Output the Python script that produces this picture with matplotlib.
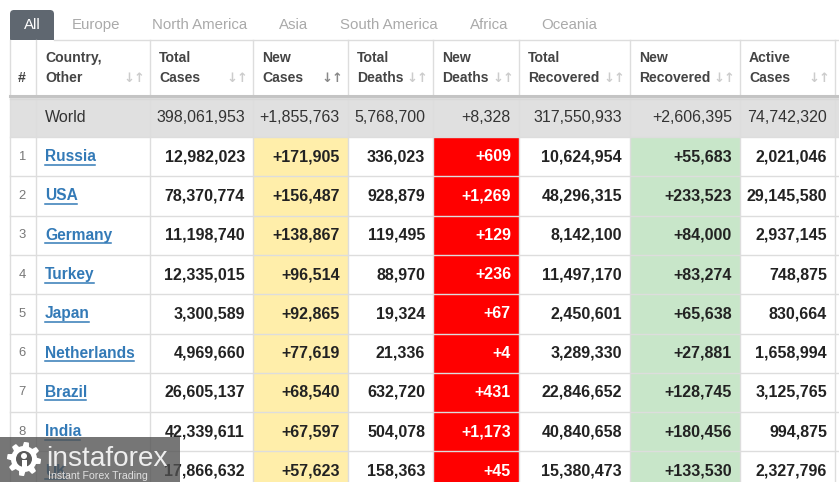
import matplotlib.pyplot as plt
from matplotlib.patches import Rectangle, FancyBboxPatch, Circle, Polygon
import numpy as np

# === Data ===
tabs = ["All", "Europe", "North America", "Asia", "South America", "Africa", "Oceania"]
headers = [["#"], ["Country,", "Other"], ["Total", "Cases"], ["New", "Cases"], ["Total", "Deaths"],
           ["New", "Deaths"], ["Total", "Recovered"], ["New", "Recovered"], ["Active", "Cases"]]
world = [398061953, 1855763, 5768700, 8328, 317550933, 2606395, 74742320]

countries = ["Russia", "USA", "Germany", "Turkey", "Japan", "Netherlands", "Brazil", "India", "UK"]
total_cases = [12982023, 78370774, 11198740, 12335015, 3300589, 4969660, 26605137, 42339611, 17866632]
new_cases = [171905, 156487, 138867, 96514, 92865, 77619, 68540, 67597, 57623]
total_deaths = [336023, 928879, 119495, 88970, 19324, 21336, 632720, 504078, 158363]
new_deaths = [609, 1269, 129, 236, 67, 4, 431, 1173, 45]
total_recovered = [10624954, 48296315, 8142100, 11497170, 2450601, 3289330, 22846652, 40840658, 15380473]
new_recovered = [55683, 233523, 84000, 83274, 65638, 27881, 128745, 180456, 133530]
active_cases = [2021046, 29145580, 2937145, 748875, 830664, 1658994, 3125765, 994875, 2327796]

# === Layout (pixels) ===
W, H = 839, 482
col_x = [10, 36, 150, 253, 348, 433, 519, 630, 740, 835, 900]
tab_x = [32, 96, 200, 294, 389, 489, 569]
header_top, header_bot = 40, 97
world_bot = 137
row_h = 39.3

FONT = "Liberation Sans"
PT = 0.72  # px -> pt at dpi 100
BORDER = "#dddddd"
TXT = "#222222"

fig = plt.figure(figsize=(W / 100, H / 100), dpi=100)
ax = fig.add_axes([0, 0, 1, 1])
ax.set_xlim(0, W)
ax.set_ylim(H, 0)
ax.axis("off")


def rect(x0, y0, x1, y1, fc, ec="none", lw=0, z=1):
    ax.add_patch(Rectangle((x0, y0), x1 - x0, y1 - y0, facecolor=fc, edgecolor=ec, linewidth=lw, zorder=z))


def fmt(v, plus=False):
    s = f"{v:,}"
    return "+" + s if plus else s


# tabs
ax.add_patch(FancyBboxPatch((10, 10), 44, 30, boxstyle="round,pad=0,rounding_size=4",
                            facecolor="#5f6770", edgecolor="none", zorder=2))
rect(10, 30, 54, 40, "#5f6770", z=2)
for i, t in enumerate(tabs):
    ax.text(tab_x[i], 25, t, ha="center", va="center", family=FONT, fontsize=15 * PT,
            color="white" if i == 0 else "#aaaaaa", zorder=3)

# header
rect(10, header_top, W, header_bot, "white", z=1)
for i, lines in enumerate(headers):
    x0 = col_x[i]
    if i == 0:
        ax.text(22, 78, "#", ha="center", va="center", family=FONT, fontsize=14 * PT,
                weight="bold", color="#444444", zorder=3)
        continue
    ax.text(x0 + 9, 58, lines[0], ha="left", va="center", family=FONT, fontsize=14 * PT,
            weight="bold", color="#444444", zorder=3)
    ax.text(x0 + 9, 78, lines[1], ha="left", va="center", family=FONT, fontsize=14 * PT,
            weight="bold", color="#444444", zorder=3)
    icon_col = "#888888" if i == 3 else "#cccccc"
    ax.text(col_x[i + 1] - 16, 78, "↓↑", ha="center", va="center", family="DejaVu Sans",
            fontsize=13 * PT, weight="bold", color=icon_col, zorder=3)
ax.plot([54, W], [header_top, header_top], color=BORDER, lw=1, zorder=4)
ax.plot([10, W], [96, 96], color="#c4c4c4", lw=2.2, zorder=5)
ax.plot([10, W], [98.5, 98.5], color="#d8d8d8", lw=1, zorder=5)

# world row
rect(10, header_bot, W, world_bot, "#e0e0e0")
ax.text(45, 117, "World", ha="left", va="center", family=FONT, fontsize=16 * PT, color="#333333", zorder=3)
for j, v in enumerate(world):
    ax.text(col_x[j + 3] - 8, 117, fmt(v, plus=j in (1, 3, 5)), ha="right", va="center",
            family=FONT, fontsize=16 * PT, color="#333333", zorder=3)

# data rows
renderer = fig.canvas.get_renderer()
inv = ax.transData.inverted()
cols = [total_cases, new_cases, total_deaths, new_deaths, total_recovered, new_recovered, active_cases]
fills = ["white", "#ffeeaa", "white", "#ff0000", "white", "#c8e6c9", "white"]
for r, name in enumerate(countries):
    y0 = world_bot + r * row_h
    y1 = y0 + row_h
    yc = (y0 + y1) / 2
    rect(10, y0, W, y1, "white")
    ax.text(22, yc, str(r + 1), ha="center", va="center", family=FONT, fontsize=13 * PT,
            color="#777777", zorder=3)
    t = ax.text(45, yc, name, ha="left", va="center", family=FONT, fontsize=15.5 * PT,
                weight="bold", color="#337ab7", zorder=3)
    bb = t.get_window_extent(renderer)
    xa, _ = inv.transform((bb.x0, 0))
    xb, _ = inv.transform((bb.x1, 0))
    ax.plot([xa, xb - 1], [yc + 8, yc + 8], color="#337ab7", lw=1.1, zorder=3)
    for j, vals in enumerate(cols):
        x0, x1 = col_x[j + 2], col_x[j + 3]
        rect(x0, y0, x1, y1, fills[j], z=1.5)
        plus = j in (1, 3, 5)
        ax.text(x1 - 8, yc, fmt(vals[r], plus), ha="right", va="center", family=FONT,
                fontsize=16 * PT, weight="bold", color="white" if j == 3 else TXT, zorder=3)

# grid lines
y_lines = [world_bot + k * row_h for k in range(len(countries) + 1)]
for y in y_lines:
    ax.plot([10, W], [y, y], color=BORDER, lw=1, zorder=2)
for x in col_x[:-1]:
    ax.plot([x, x], [header_top, H], color=BORDER, lw=1, zorder=2)

# watermark
ax.add_patch(Rectangle((0, 437), 180, 45, facecolor="#505050", alpha=0.78, edgecolor="none", zorder=6))
gx, gy = 24, 459
ang = np.linspace(0, 2 * np.pi, 64, endpoint=False)
rad = np.where((np.arange(64) // 4) % 2 == 0, 17, 13)
ax.add_patch(Polygon(np.c_[gx + rad * np.cos(ang), gy + rad * np.sin(ang)], closed=True,
                     facecolor="white", edgecolor="none", zorder=7))
ax.add_patch(Circle((gx, gy), 8, facecolor="#5a5a5a", edgecolor="none", zorder=8))
ax.add_patch(Circle((gx, gy - 3), 3, facecolor="white", edgecolor="none", zorder=9))
ax.add_patch(Rectangle((gx - 2.5, gy + 1), 5, 9, facecolor="white", edgecolor="none", zorder=9))
ax.text(46, 466, "instaforex", ha="left", va="baseline", family=FONT, fontsize=28 * PT,
        color="#eeeeee", zorder=8)
ax.text(48, 476, "Instant Forex Trading", ha="left", va="center", family=FONT, fontsize=10.5 * PT,
        color="#e0e0e0", zorder=8)

fig.savefig("out.png", dpi=100)
